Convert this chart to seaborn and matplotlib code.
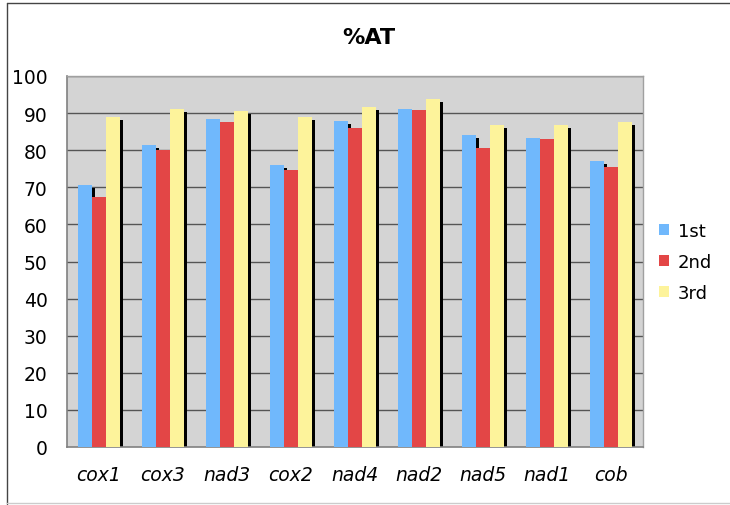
import matplotlib
matplotlib.use("Agg")
import matplotlib.pyplot as plt
import seaborn as sns
import pandas as pd
from matplotlib.patches import Rectangle
from matplotlib.lines import Line2D

genes = ["cox1", "cox3", "nad3", "cox2", "nad4", "nad2", "nad5", "nad1", "cob"]
first = [70.5, 81.4, 88.4, 76.1, 88.0, 91.1, 84.2, 83.2, 77.1]
second = [67.3, 80.0, 87.7, 74.6, 86.0, 90.8, 80.6, 83.1, 75.4]
third = [89.0, 91.1, 90.5, 89.0, 91.6, 93.8, 86.9, 86.7, 87.7]
series = ["1st", "2nd", "3rd"]
colors = ["#70b8fc", "#e34646", "#fdf39b"]

df = pd.DataFrame({
    "gene": genes * 3,
    "pos": series[0:1] * 9 + series[1:2] * 9 + series[2:3] * 9,
    "AT": first + second + third,
})

sns.set_style("white")
plt.rcParams["font.family"] = ["DejaVu Sans"]
plt.rcParams["text.color"] = "black"
plt.rcParams["xtick.color"] = "black"
plt.rcParams["ytick.color"] = "black"

W, H = 730, 506
fig = plt.figure(figsize=(W / 100, H / 100), dpi=100)
ax = fig.add_axes([67 / W, 1 - 448 / H, (643 - 67) / W, (448 - 77) / H])
ax.set_facecolor("#d4d4d4")

sns.barplot(data=df, x="gene", y="AT", hue="pos", order=genes, hue_order=series,
            palette=colors, width=0.656, gap=0, saturation=1, ax=ax,
            legend=False, edgecolor="none", linewidth=0, zorder=3)

# shadows behind bars
dx = 3.2 / 64.0
dy = 3.0 / 3.7
for p in list(ax.patches):
    h = p.get_height()
    if h <= 0:
        continue
    ax.add_patch(Rectangle((p.get_x() + dx, 0), p.get_width(), h - dy,
                           facecolor="black", edgecolor="none", zorder=2))

ax.set_ylim(0, 100)
ax.set_xlim(-0.5, len(genes) - 0.5)
ax.set_yticks(range(0, 101, 10))
for yv in range(10, 101, 10):
    ax.axhline(yv, color="#555555", lw=1.0, zorder=1)

ax.set_xticks(range(len(genes)))
ax.set_xticklabels(genes, fontstyle="italic", fontsize=13.5)
ax.set_xticks([i - 0.5 for i in range(len(genes) + 1)], minor=True)
ax.tick_params(axis="x", which="major", length=0, pad=13, labelcolor="black")
ax.tick_params(axis="x", which="minor", length=6, color="#808080", width=1, direction="out")
ax.tick_params(axis="y", length=6, color="#808080", width=1, direction="out", labelsize=13.5,
               pad=8, labelcolor="black")
ax.set_xlabel("")
ax.set_ylabel("")

for s in ["left", "bottom"]:
    ax.spines[s].set_color("#808080")
    ax.spines[s].set_linewidth(1.2)
for s in ["top", "right"]:
    ax.spines[s].set_color("#a0a0a0")
    ax.spines[s].set_linewidth(1.0)

fig.text(0.505, 0.925, "%AT", ha="center", va="center", fontsize=16, fontweight="bold",
         color="black")

handles = [Rectangle((0, 0), 1, 1, facecolor=c, edgecolor="none") for c in colors]
leg = fig.legend(handles, series, loc="center left", bbox_to_anchor=(0.88, 0.481),
                 frameon=False, fontsize=13, handlelength=0.6, handleheight=0.6,
                 handletextpad=0.45, labelspacing=0.72)
for t in leg.get_texts():
    t.set_color("black")

# outer chart frame
fig.add_artist(Line2D([7 / W, 7 / W], [1 / H, 1 - 4 / H], transform=fig.transFigure, color="#444444", lw=1))
fig.add_artist(Line2D([7 / W, 1], [1 - 4 / H, 1 - 4 / H], transform=fig.transFigure, color="#444444", lw=1))
fig.add_artist(Line2D([7 / W, 1], [2 / H, 2 / H], transform=fig.transFigure, color="#cccccc", lw=1))

fig.savefig("out.png", dpi=100)
